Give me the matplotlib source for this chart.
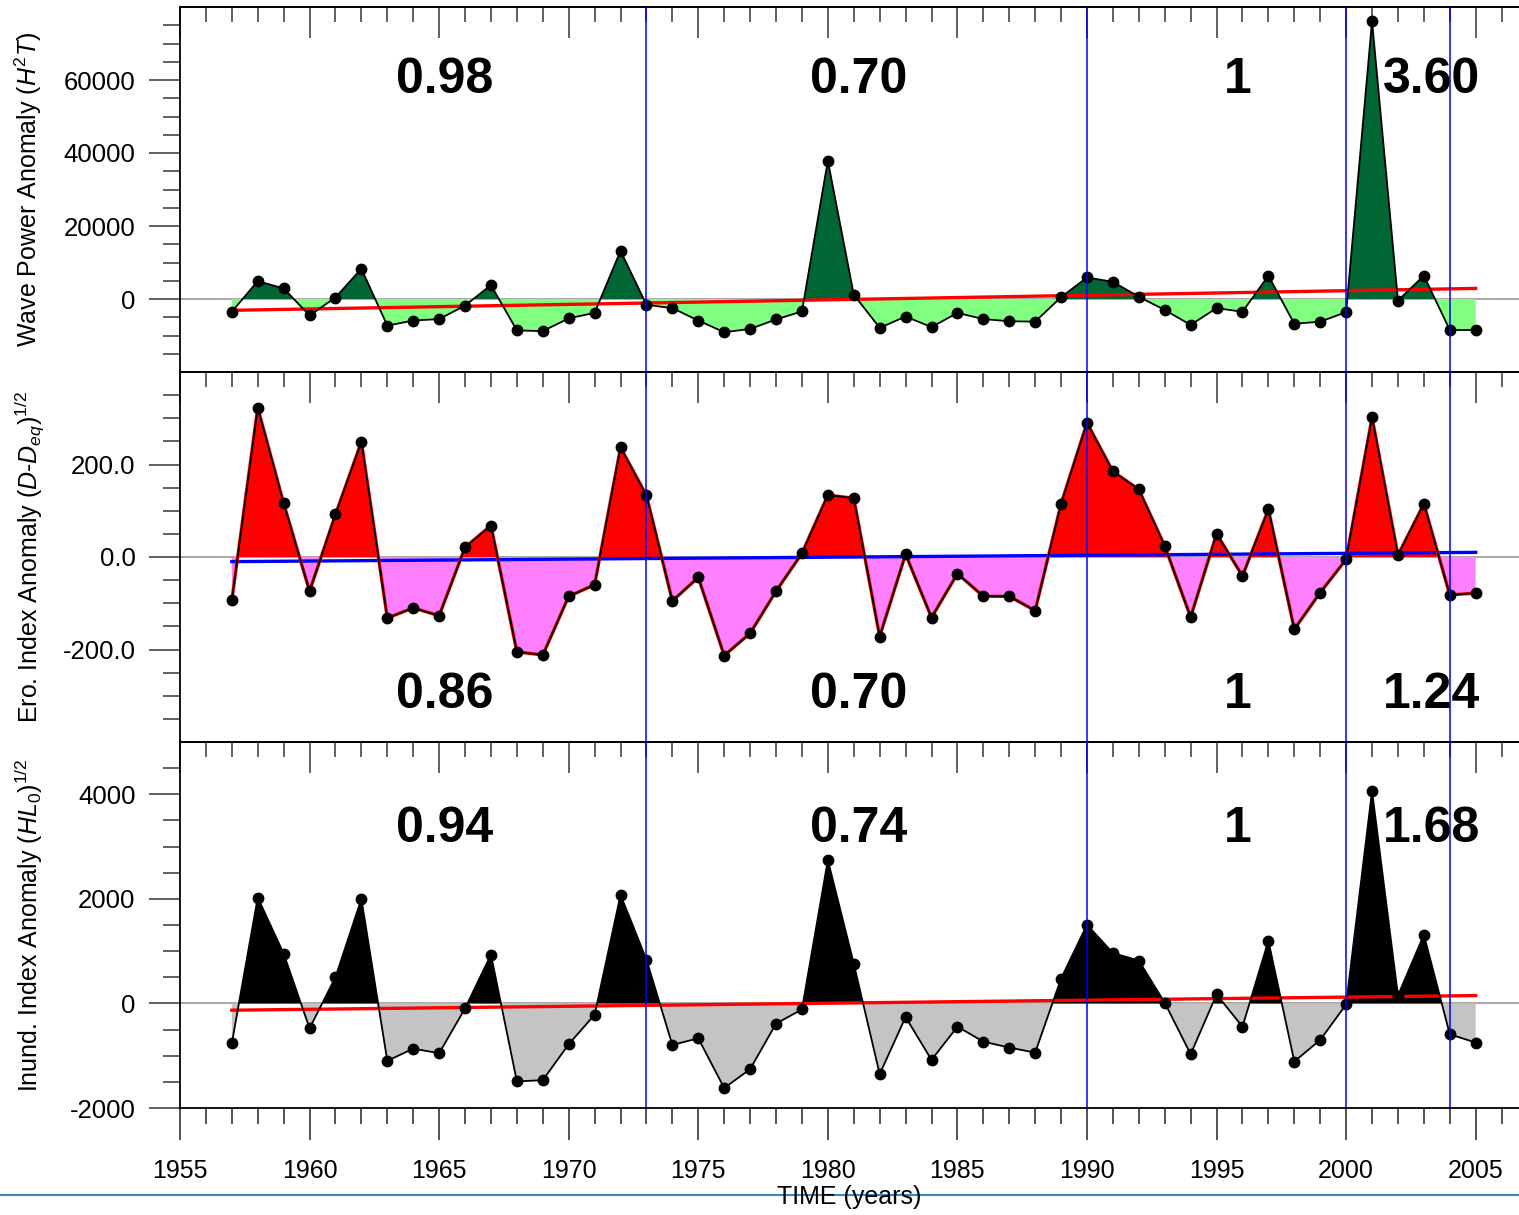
import numpy as np
import matplotlib
matplotlib.use('Agg')
import matplotlib.pyplot as plt
from matplotlib.ticker import MultipleLocator, FixedLocator, FormatStrFormatter, NullFormatter
from matplotlib.lines import Line2D

plt.rcParams['font.family'] = ['Liberation Sans', 'DejaVu Sans']
plt.rcParams['mathtext.fontset'] = 'custom'
plt.rcParams['mathtext.rm'] = 'Liberation Sans'
plt.rcParams['mathtext.it'] = 'Liberation Sans:italic'
plt.rcParams['mathtext.bf'] = 'Liberation Sans:bold'

years = np.arange(1957, 2006)

wave_power = [-3500, 4900, 2900, -4500, 400, 8300, -7300, -5900, -5500, -1800,
              3800, -8600, -8800, -5300, -3800, 13200, -1600, -2500, -5900, -9100,
              -8200, -5600, -3400, 37900, 1200, -7900, -4800, -7700, -3800, -5500,
              -6100, -6200, 500, 5900, 4700, 600, -3000, -7100, -2500, -3500,
              6400, -6800, -6200, -3600, 76100, -450, 6400, -8500, -8500]

ero_index = [-94, 323, 116, -74, 92, 249, -132, -110, -127, 21,
             68, -205, -212, -85, -60, 237, 133, -95, -44, -213,
             -165, -74, 8, 134, 127, -172, 6, -131, -36, -85,
             -85, -116, 115, 290, 185, 146, 24, -130, 50, -41,
             103, -156, -77, -5, 302, 4, 115, -82, -78]

inund_index = [-762, 2025, 952, -476, 502, 2000, -1099, -864, -952, -95,
               933, -1492, -1467, -781, -216, 2076, 838, -794, -667, -1619,
               -1257, -387, -114, 2743, 762, -1352, -260, -1080, -445, -730,
               -845, -940, 476, 1505, 965, 819, 13, -971, 171, -445,
               1200, -1111, -698, -19, 4064, 150, 1314, -590, -749]

# linear trend, values at 1957 and 2005
wave_trend = [-3100, 2900]
ero_trend = [-10, 10]
inund_trend = [-130, 150]

breaks = [1973, 1990, 2000, 2004]
wave_ratios = ['0.98', '0.70', '1', '3.60']
ero_ratios = ['0.86', '0.70', '1', '1.24']
inund_ratios = ['0.94', '0.74', '1', '1.68']

fig = plt.figure(figsize=(15.19, 12.15), dpi=100)

left = 180 / 1519
width = 1 - left
axes = [fig.add_axes([left, 1 - 372 / 1215, width, 365 / 1215]),
        fig.add_axes([left, 1 - 742 / 1215, width, 370 / 1215]),
        fig.add_axes([left, 1 - 1108 / 1215, width, 366 / 1215])]

panels = [
    dict(vals=wave_power, trend=wave_trend, pos='#006633', neg='#80ff80', edge=None,
         tcol='#ff0000', ylim=(-20000, 80000), major=[0, 20000, 40000, 60000], minor=5000,
         fmt='%d', ratios=wave_ratios, ty=0.80,
         label='Wave Power Anomaly ($H^{2}T$)'),
    dict(vals=ero_index, trend=ero_trend, pos='#ff0000', neg='#ff80ff', edge='#ff0000',
         tcol='#0000ff', ylim=(-400, 400), major=[-200, 0, 200], minor=50,
         fmt='%.1f', ratios=ero_ratios, ty=0.128,
         label='Ero. Index Anomaly ($D$-$D_{eq}$)$^{1/2}$'),
    dict(vals=inund_index, trend=inund_trend, pos='#000000', neg='#c4c4c4', edge=None,
         tcol='#ff0000', ylim=(-2000, 5000), major=[-2000, 0, 2000, 4000], minor=500,
         fmt='%d', ratios=inund_ratios, ty=0.761,
         label='Inund. Index Anomaly ($HL_0$)$^{1/2}$'),
]

ratio_x = [1965.2, 1981.2, 1995.8, 2003.3]

for i, (ax, p) in enumerate(zip(axes, panels)):
	v = np.array(p['vals'], dtype=float)
	ax.axhline(0, color='#999999', lw=1.2, zorder=1)
	ax.fill_between(years, v, 0, where=v >= 0, interpolate=True, color=p['pos'], lw=0, zorder=2)
	ax.fill_between(years, v, 0, where=v <= 0, interpolate=True, color=p['neg'], lw=0, zorder=2)
	ax.plot([years[0], years[-1]], p['trend'], color=p['tcol'], lw=2.4, zorder=3)
	if p['edge']:
		ax.plot(years, v, color=p['edge'], lw=2.4, zorder=4)
	ax.plot(years, v, color='black', lw=1.3, zorder=5)
	ax.plot(years, v, 'o', color='black', ms=7.5, zorder=6)
	for b in breaks:
		ax.axvline(b, color='#0000ff', lw=1.1, zorder=7)

	for s, x in zip(p['ratios'], ratio_x):
		ax.text(x, p['ty'], s, transform=ax.get_xaxis_transform(), ha='center', va='center',
		        fontsize=36, fontweight='bold', zorder=8)

	ax.set_xlim(1955, 1955 + 1339 / 25.914)
	ax.set_ylim(*p['ylim'])
	ax.spines['right'].set_visible(False)
	for sp in ax.spines.values():
		sp.set_linewidth(1.3)

	ax.yaxis.set_major_locator(FixedLocator(p['major']))
	lo, hi = p['ylim']
	ax.yaxis.set_minor_locator(FixedLocator(np.arange(lo + p['minor'], hi, p['minor'])))
	ax.yaxis.set_major_formatter(FormatStrFormatter(p['fmt']))
	ax.tick_params(axis='y', which='both', direction='out', color='#555555', width=1.3,
	               labelsize=18.5, pad=10)
	ax.tick_params(axis='y', which='major', length=22)
	ax.tick_params(axis='y', which='minor', length=12)

	ax.xaxis.set_major_locator(MultipleLocator(5))
	ax.xaxis.set_minor_locator(MultipleLocator(1))
	ax.tick_params(axis='x', which='both', top=False, bottom=(i == 2), labelbottom=(i == 2),
	               direction='out', color='#444444', width=1.3, labelsize=18, pad=14)
	ax.tick_params(axis='x', which='major', length=23)
	ax.tick_params(axis='x', which='minor', length=11.5)

	sec = ax.secondary_xaxis('top')
	sec.xaxis.set_major_locator(MultipleLocator(5))
	sec.xaxis.set_minor_locator(MultipleLocator(1))
	sec.xaxis.set_major_formatter(NullFormatter())
	sec.tick_params(axis='x', which='both', direction='in', color='#555555', width=1.3)
	sec.tick_params(axis='x', which='major', length=22)
	sec.tick_params(axis='x', which='minor', length=11)
	sec.spines['top'].set_linewidth(1.3)

	ax.text(-0.113, 0.5, p['label'], transform=ax.transAxes, rotation=90,
	        ha='center', va='center', fontsize=18)

fig.add_artist(Line2D([0, 1], [1 - 1195 / 1215] * 2, transform=fig.transFigure,
                      color='#3a86c0', lw=1.5, zorder=0))
fig.text(left + width / 2, 1 - 1197 / 1215, 'TIME (years)', ha='center', va='center',
         fontsize=18, zorder=5)

fig.savefig('out.png', dpi=100)
